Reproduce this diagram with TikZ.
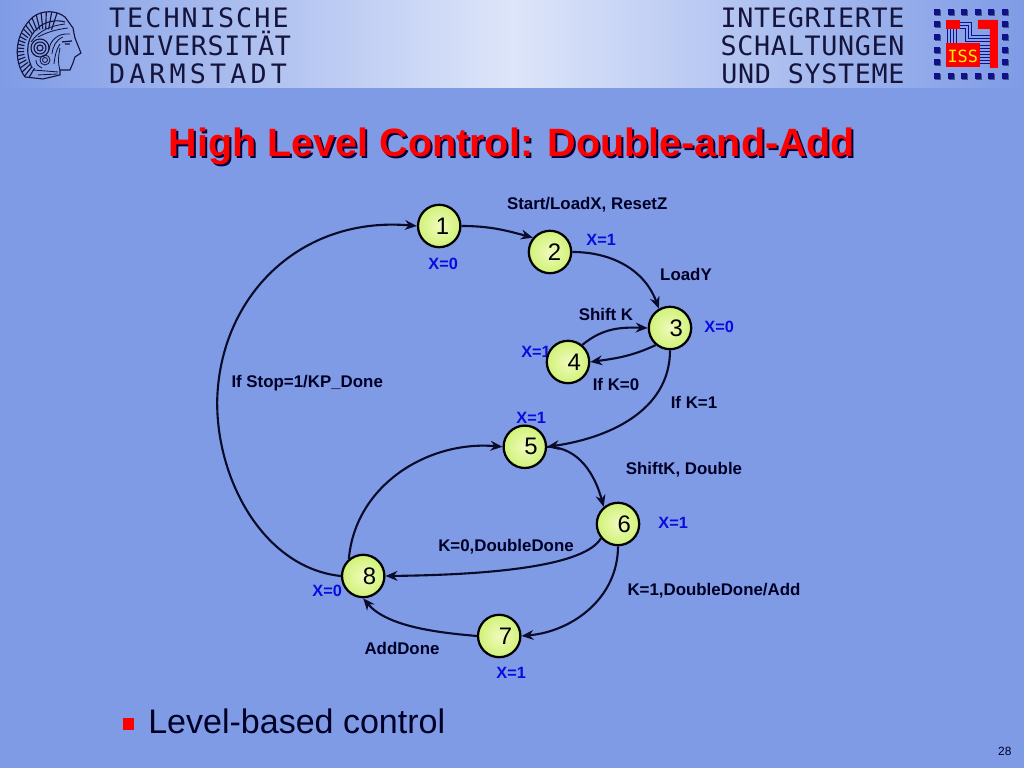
\documentclass[tikz,border=0pt]{standalone}
\usepackage{fontspec}
\usepackage{xcolor}
\usetikzlibrary{arrows.meta}
\setmainfont{Liberation Sans}
\newfontfamily\headfont[LetterSpace=2.6]{DejaVu Sans Mono}
\newfontfamily\headfonta[LetterSpace=7.8]{DejaVu Sans Mono}
\newfontfamily\headfontb[LetterSpace=15.5]{DejaVu Sans Mono}
\newfontfamily\logofont{DejaVu Sans Mono}
\definecolor{slideblue}{HTML}{7F9BE6}
\definecolor{bandlight}{HTML}{DDE5F9}
\definecolor{linedark}{HTML}{0A0A2A}
\definecolor{outblue}{HTML}{0A0AE0}
\definecolor{headdark}{HTML}{14143C}
\definecolor{issblue}{HTML}{10108C}
\definecolor{statein}{HTML}{F0FABC}
\definecolor{stateout}{HTML}{D0F278}

\begin{document}
\begin{tikzpicture}[
  >={Stealth[length=8.5pt,width=7pt]},
  flow/.style={->, draw=linedark, line width=1.5pt},
  state/.style={circle, draw=black, line width=1.6pt, minimum size=1.06cm, inner sep=0pt,
    inner color=statein, outer color=stateout, font=\fontsize{17}{20}\selectfont},
  action/.style={font=\fontsize{12}{14}\selectfont\bfseries, text=black!85!blue},
  output/.style={font=\fontsize{11.6}{14}\selectfont\bfseries, text=outblue},
  headtext/.style={font=\fontsize{19}{23}\selectfont, text=headdark, inner sep=0pt}
]
  \useasboundingbox (0,0) rectangle (25.6,19.2);
  \fill[slideblue] (0,0) rectangle (25.6,19.2);
  \shade[left color=slideblue, right color=slideblue, middle color=bandlight] (0,17.0) rectangle (25.6,19.2);

  % header texts
  \node[headtext, anchor=base west] (tu1) at (2.72,18.5) {\headfonta TECHNISCHE};
  \node[headtext, anchor=base west] (tu2) at (2.67,17.8) {\headfont UNIVERSITÄT};
  \node[headtext, anchor=base west] (tu3) at (2.72,17.1) {\headfontb DARMSTADT};
  \node[headtext, anchor=base east] (iss1) at (22.62,18.5) {\headfont INTEGRIERTE};
  \node[headtext, anchor=base east] (iss2) at (22.62,17.8) {\headfont SCHALTUNGEN};
  \node[headtext, anchor=base east] (iss3) at (22.62,17.1) {\headfont UND SYSTEME};

  % left logo
  \begin{scope}[x=0.025cm, y=-0.025cm, yshift=19.2cm, draw=headdark, line width=0.6pt]
    \begin{scope}
      \clip (25,77) .. controls (14,62) and (13,35) .. (33,17) .. controls (42,10) and (56,10) .. (65,17)
        -- (73,28) -- (75,38) -- (81,53) -- (75,57) -- (73,63) -- (70,70) -- (60,70) -- (60,75) -- (43,79) -- cycle;
      \foreach \a in {120,128,...,290} {
        \draw[line width=0.8pt] (45,50) ++(\a:21) -- ++(\a:20);
      }
      \draw[line width=0.8pt] (40,48) circle (9) (40,48) circle (6) (40,48) circle (3);
      \draw (45,60) circle (5) (45,60) circle (2.5);
      \draw (65,24) .. controls (50,26) and (40,30) .. (31,42);
      \draw (68,28) .. controls (52,30) and (44,34) .. (38,37);
      \draw (70,34) .. controls (58,33) and (50,40) .. (49,50);
      \draw (63,37) .. controls (56,40) and (53,46) .. (52,54);
      \draw (60,44) .. controls (56,50) and (55,56) .. (54,64);
      \draw (33,70) -- (58,72) (38,75) -- (58,74);
      \draw (36,60) .. controls (36,64) and (38,66) .. (42,68);
      \draw[line width=0.9pt] (62,42) -- (72,41) (65,44) -- (70,44);
      \draw (60,48) .. controls (58,58) and (58,64) .. (60,70);
    \end{scope}
    \draw[line width=0.8pt] (25,77) .. controls (14,62) and (13,35) .. (33,17) .. controls (42,10) and (56,10) .. (65,17)
      -- (73,28) .. controls (74,32) and (74,35) .. (75,38) -- (81,53) -- (75,57) -- (73,63) -- (70,70) -- (60,70) -- (60,75) -- (43,79) -- cycle;
    \draw[line width=0.8pt] (32,68) .. controls (24,50) and (28,36) .. (38,28) .. controls (44,22) and (56,19) .. (65,22);
  \end{scope}

  % right logo
  \begin{scope}[x=0.025cm, y=-0.025cm, yshift=19.2cm]
    \foreach \p in {937,951,964,978,991,1005} {
      \fill[black!45!slideblue] (\p-1.5,10.5) rectangle (\p+4,16);
      \fill[black!45!slideblue] (\p-1.5,74.5) rectangle (\p+4,80);
      \fill[issblue] (\p-3,9) rectangle (\p+3,15);
      \fill[issblue] (\p-3,73) rectangle (\p+3,79);
    }
    \foreach \q in {24,37,50,62} {
      \fill[black!45!slideblue] (935.5,\q-1.5) rectangle (941,\q+4);
      \fill[black!45!slideblue] (1003.5,\q-1.5) rectangle (1009,\q+4);
      \fill[issblue] (934,\q-3) rectangle (940,\q+3);
      \fill[issblue] (1002,\q-3) rectangle (1008,\q+3);
    }
    \foreach \d in {0,3,6,9} {
      \draw[issblue, line width=0.5pt] (948+\d,29) -- (948+\d,43);
    }
    \foreach \d in {0,3,6} {
      \draw[issblue, line width=0.5pt] (960,22+\d) -- (972-\d,22+\d) -- (972-\d,35+\d) -- (990,35+\d);
    }
    \foreach \d in {0,3,...,18} {
      \draw[issblue, line width=0.5pt] (980,45+\d) -- (990,45+\d);
    }
    \fill[red] (946,20) rectangle (960,29);
    \fill[red] (978,20) -- (998,20) -- (998,68) -- (990,68) -- (990,29) -- (978,29) -- cycle;
    \fill[red] (946,43) rectangle (980,67);
    \node[font=\fontsize{12}{14}\selectfont\logofont, text=yellow, inner sep=0pt] (isslogo) at (963,56) {ISS};
  \end{scope}

  % title
  \node[font=\fontsize{28.1}{32}\selectfont\bfseries, text=black!75!blue] (titleshadow) at (12.85,15.48) {High Level Control: Double-and-Add};
  \node[font=\fontsize{28.1}{32}\selectfont\bfseries, text=red] (title) at (12.8,15.53) {High Level Control: Double-and-Add};

  % labels
  \node[action] (a1) at (14.68,14.08) {Start/LoadX, ResetZ};
  \node[action] (a2) at (17.15,12.35) {LoadY};
  \node[action] (a3) at (15.15,11.33) {Shift K};
  \node[action] (a4) at (15.4,9.58) {If K=0};
  \node[action] (a5) at (17.35,9.15) {If K=1};
  \node[action] (a6) at (7.68,9.63) {If Stop=1/KP\_Done};
  \node[action] (a7) at (17.1,7.45) {ShiftK, Double};
  \node[action] (a8) at (12.65,5.53) {K=0,DoubleDone};
  \node[action] (a9) at (17.85,4.43) {K=1,DoubleDone/Add};
  \node[action] (a10) at (10.05,3.0) {AddDone};

  \node[output] (x1) at (11.08,12.6) {X=0};
  \node[output] (x2) at (15.03,13.2) {X=1};
  \node[output] (x3) at (17.98,11.03) {X=0};
  \node[output] (x4) at (13.4,10.4) {X=1};
  \node[output] (x5) at (13.28,8.75) {X=1};
  \node[output] (x6) at (16.83,6.13) {X=1};
  \node[output] (x8) at (8.18,4.43) {X=0};
  \node[output] (x7) at (12.78,2.38) {X=1};

  % states
  \node[state] (s1) at (10.98,13.55) {\kern0.16cm 1};
  \node[state] (s2) at (13.75,12.9) {\kern0.22cm 2};
  \node[state] (s3) at (16.75,11.0) {\kern0.31cm 3};
  \node[state] (s4) at (14.2,10.15) {\kern0.31cm 4};
  \node[state] (s5) at (13.12,8.03) {\kern0.31cm 5};
  \node[state] (s6) at (15.45,6.1) {\kern0.31cm 6};
  \node[state] (s7) at (12.48,3.3) {\kern0.31cm 7};
  \node[state] (s8) at (9.08,4.8) {\kern0.31cm 8};

  % transitions
  \draw[flow] (s1.east) to[out=0, in=165] (s2.140);
  \draw[flow] (s2.east) to[out=0, in=110] (s3.120);
  \draw[flow] (s4.50) to[out=40, in=178] (s3.west);
  \draw[flow] (s3.-130) to[out=-155, in=8] (s4.east);
  \draw[flow] (s3.south) to[out=-90, in=8] (s5.east);
  \draw[flow] (s5.east) to[out=0, in=105] (s6.130);
  \draw[flow] (s6.-140) .. controls (14.63,5.08) and (12.5,4.83) .. (s8.east);
  \draw[flow] (s6.south) to[out=-90, in=5] (s7.east);
  \draw[flow] (s7.west) to[out=175, in=-50, looseness=0.8] (s8.south);
  \draw[flow] (s8.130) to[out=85, in=175] (s5.west);
  \draw[flow] (s8.west) .. controls (6.6,5.0) and (5.4,7.2) .. (5.43,9.2) .. controls (5.5,11.8) and (7.5,13.8) .. (s1.west);

  % bullet and page number
  \fill[red] (3.08,0.96) rectangle (3.36,1.24);
  \node[anchor=west, font=\fontsize{24.2}{28}\selectfont, text=black!85!blue, inner sep=0pt] (bullet) at (3.7,1.16) {Level-based control};
  \node[font=\fontsize{8.5}{10}\selectfont, text=black!85!blue] (page) at (25.12,0.41) {28};
\end{tikzpicture}
\end{document}
